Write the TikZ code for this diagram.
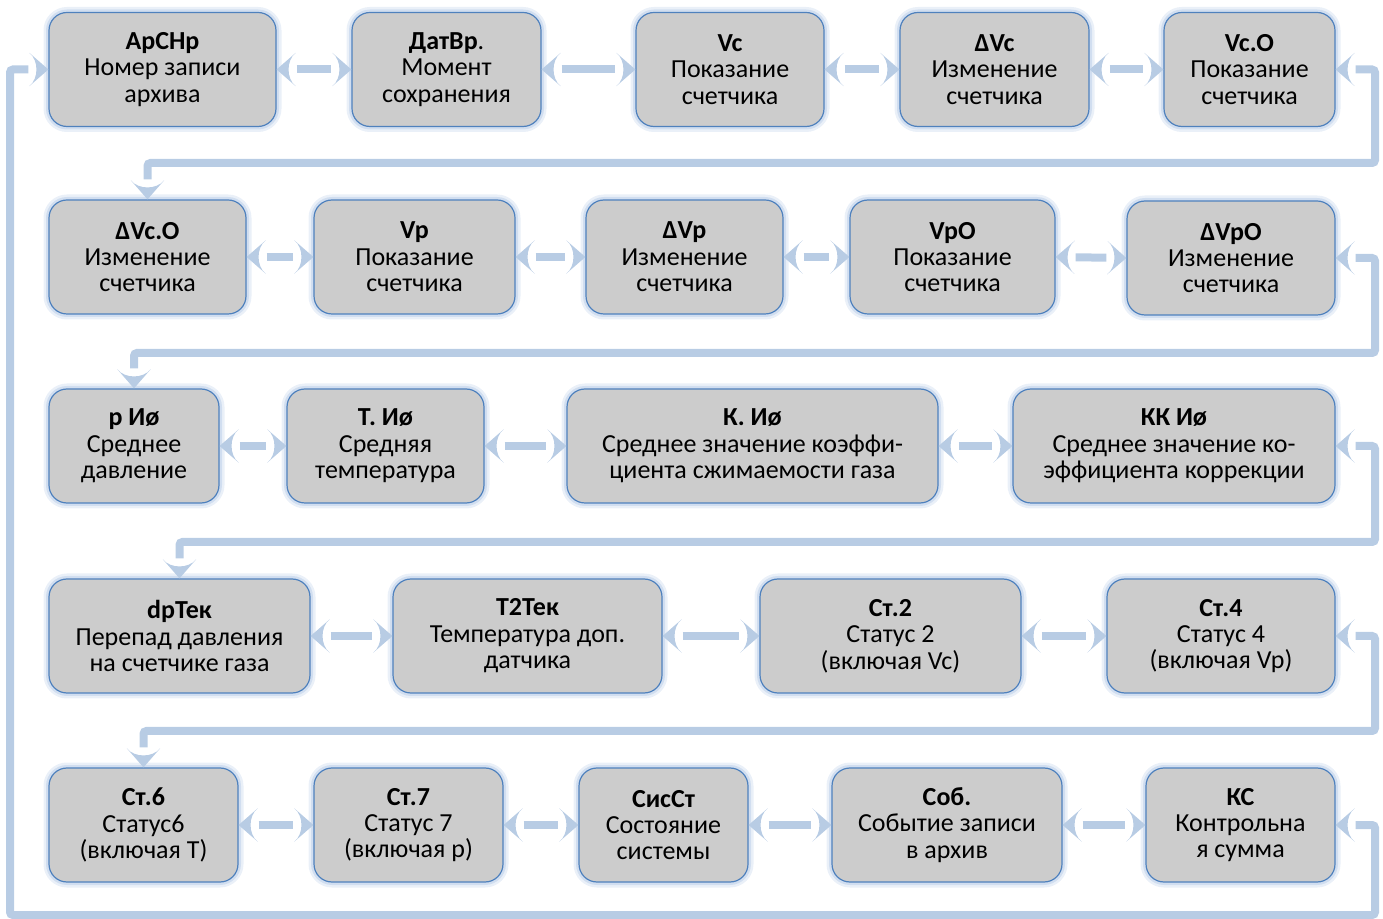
\documentclass[tikz,border=0pt]{standalone}
\usepackage{fontspec}
\setmainfont{Carlito}
\usetikzlibrary{arrows.meta}
\definecolor{boxfill}{HTML}{CCCCCC}
\definecolor{boxline}{HTML}{4F81BD}
\definecolor{glow}{HTML}{B9CDE8}
\definecolor{conn}{HTML}{B8CCE4}
\pgfdeclarearrow{
  name = CurvedHead,
  setup code = {\pgfarrowssettipend{0pt}\pgfarrowssetbackend{-9.5pt}\pgfarrowssetlineend{-6pt}},
  drawing code = {
    \pgfsetfillcolor{conn}
    \pgfpathmoveto{\pgfpointorigin}
    \pgfpathlineto{\pgfpoint{-9.5pt}{8.3pt}}
    \pgfpathcurveto{\pgfpoint{-4.8pt}{4.5pt}}{\pgfpoint{-4.8pt}{-4.5pt}}{\pgfpoint{-9.5pt}{-8.3pt}}
    \pgfpathclose
    \pgfusepathqfill
  },
}
\tikzset{
 blk/.style={draw=boxline, line width=0.6pt, fill=boxfill, rounded corners=9pt, align=center, inner sep=0pt,
   font=\fontsize{13}{13.2}\selectfont, minimum height=57pt,
   preaction={draw=glow, line width=5.5pt, opacity=0.3},
   preaction={draw=glow, line width=3pt, opacity=0.5}},
 lnk/.style={draw=conn, line width=4pt, line cap=butt, {CurvedHead}-{CurvedHead}, rounded corners=1.5pt,
   dash pattern=on 0pt off 10000pt,
   preaction={draw=conn, line width=4pt, solid, -, shorten <=10pt, shorten >=10pt}},
}
\begin{document}
\begin{tikzpicture}[x=0.5pt,y=-0.5pt]
\useasboundingbox (0,0) rectangle (1383,919);
% row 1
\node[blk, minimum width=113.5pt] (a1) at (162.5,69.5) {\textbf{АрСНр}\\Номер записи\\архива};
\node[blk, minimum width=94.5pt] (a2) at (446.5,69.5) {\textbf{ДатВр}.\\Момент\\сохранения};
\node[blk, minimum width=94pt] (a3) at (730,69.5) {\textbf{Vc}\\Показание\\счетчика};
\node[blk, minimum width=94.5pt] (a4) at (994.5,69.5) {\textbf{ΔVc}\\Изменение\\счетчика};
\node[blk, minimum width=85.5pt] (a5) at (1249.5,69.5) {\textbf{Vc.O}\\Показание\\счетчика};
% row 2
\node[blk, minimum width=98.5pt] (b1) at (147.5,257) {\textbf{ΔVc.O}\\Изменение\\счетчика};
\node[blk, minimum width=100.5pt] (b2) at (414.5,257) {\textbf{Vp}\\Показание\\счетчика};
\node[blk, minimum width=98.5pt] (b3) at (684.5,257) {\textbf{ΔVp}\\Изменение\\счетчика};
\node[blk, minimum width=102.5pt] (b4) at (952.5,257) {\textbf{VpO}\\Показание\\счетчика};
\node[blk, minimum width=104pt] (b5) at (1231,258) {\textbf{ΔVpO}\\Изменение\\счетчика};
% row 3
\node[blk, minimum width=85pt] (c1) at (134,446) {\textbf{p Иø}\\Среднее\\давление};
\node[blk, minimum width=98.5pt] (c2) at (385.5,446) {\textbf{Т. Иø}\\Средняя\\температура};
\node[blk, minimum width=185.5pt] (c3) at (752.5,446) {\textbf{К. Иø}\\Среднее значение коэффи-\\циента сжимаемости газа};
\node[blk, minimum width=161pt] (c4) at (1174,446) {\textbf{КК Иø}\\Среднее значение ко-\\эффициента коррекции};
% row 4
\node[blk, minimum width=130.5pt] (d1) at (179.5,636) {\textbf{dpТек}\\Перепад давления\\на счетчике газа};
\node[blk, minimum width=134.5pt] (d2) at (527.5,636) {\textbf{Т2Тек}\\Температура доп.\\датчика};
\node[blk, minimum width=130.5pt] (d3) at (890.5,636) {\textbf{Ст.2}\\Статус 2\\(включая Vc)};
\node[blk, minimum width=114pt] (d4) at (1221,636) {\textbf{Ст.4}\\Статус 4\\(включая Vp)};
% row 5
\node[blk, minimum width=94.5pt] (e1) at (143.5,825) {\textbf{Ст.6}\\Статус6\\(включая Т)};
\node[blk, minimum width=94.5pt] (e2) at (408.5,825) {\textbf{Ст.7}\\Статус 7\\(включая р)};
\node[blk, minimum width=84.5pt] (e3) at (663.5,825) {\textbf{СисСт}\\Состояние\\системы};
\node[blk, minimum width=115pt] (e4) at (947,825) {\textbf{Соб.}\\Событие записи\\в архив};
\node[blk, minimum width=94.5pt] (e5) at (1240.5,825) {\textbf{КС}\\Контрольна\\я сумма};
% in-row links
\foreach \r in {a,b,e}{
  \draw[lnk] (\r1.east) -- (\r2.west);
  \draw[lnk] (\r2.east) -- (\r3.west);
  \draw[lnk] (\r3.east) -- (\r4.west);
  \draw[lnk] (\r4.east) -- (\r5.west);
}
\foreach \r in {c,d}{
  \draw[lnk] (\r1.east) -- (\r2.west);
  \draw[lnk] (\r2.east) -- (\r3.west);
  \draw[lnk] (\r3.east) -- (\r4.west);
}
% row-to-row links
\coordinate (k1) at (1375,163);
\coordinate (k2) at (1375,353);
\coordinate (k3) at (1375,542);
\coordinate (k4) at (1375,731);
\draw[lnk] (a5.east) -| (k1) -| (b1.north);
\draw[lnk] (b5.east) -| (k2) -| (c1.north);
\draw[lnk] (c4.east) -| (k3) -| (d1.north);
\draw[lnk] (d4.east) -| (k4) -| (e1.north);
% closing loop
\coordinate (k5) at (1375,915);
\coordinate (k6) at (10,915);
\draw[lnk] (e5.east) -| (k5) -- (k6) |- (a1.west);
\end{tikzpicture}
\end{document}
